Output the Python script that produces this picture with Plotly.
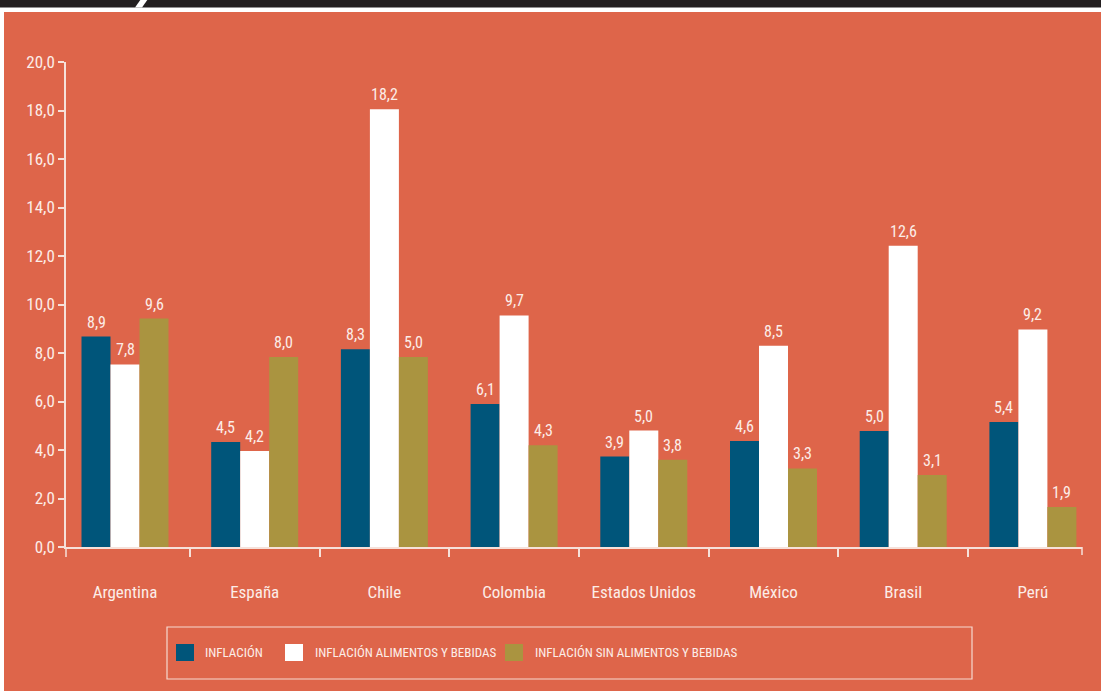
import plotly.graph_objects as go

categories = ["Argentina", "España", "Chile", "Colombia", "Estados Unidos", "México", "Brasil", "Perú"]
series_names = ["INFLACIÓN", "INFLACIÓN ALIMENTOS Y BEBIDAS", "INFLACIÓN SIN ALIMENTOS Y BEBIDAS"]
inflacion = [8.68, 4.33, 8.15, 5.9, 3.73, 4.37, 4.78, 5.15]
inflacion_alimentos = [7.53, 3.96, 18.05, 9.55, 4.80, 8.3, 12.42, 8.97]
inflacion_sin_alimentos = [9.42, 7.83, 7.83, 4.2, 3.6, 3.24, 2.97, 1.65]
labels_inflacion = ["8,9", "4,5", "8,3", "6,1", "3,9", "4,6", "5,0", "5,4"]
labels_alimentos = ["7,8", "4,2", "18,2", "9,7", "5,0", "8,5", "12,6", "9,2"]
labels_sin_alimentos = ["9,6", "8,0", "5,0", "4,3", "3,8", "3,3", "3,1", "1,9"]
y_ticks = [0, 2, 4, 6, 8, 10, 12, 14, 16, 18, 20]

colors = ["#00557A", "#FFFFFF", "#AA9440"]
BG = "#DE654A"
TXT = "#FCEDE8"
LINE = "#F6E1DA"
FONT = "Roboto Condensed, Liberation Sans Narrow, DejaVu Sans Condensed, sans-serif"

W, H = 1101, 691
L, R, T, B = 66, 1082, 62, 547
BAR_PX = 29

def px(x):
    return (x - L) / (R - L)

def py(y):
    return (B - y) / (B - T)

fig = go.Figure()
annotations = []
all_vals = [inflacion, inflacion_alimentos, inflacion_sin_alimentos]
all_labs = [labels_inflacion, labels_alimentos, labels_sin_alimentos]
for i, (name, vals, labs, col) in enumerate(zip(series_names, all_vals, all_labs, colors)):
    fig.add_trace(go.Bar(x=categories, y=vals, name=name, marker=dict(color=col, line=dict(width=0)),
                         showlegend=False, hoverinfo="x+y"))
    for c, v, t in zip(categories, vals, labs):
        annotations.append(dict(x=c, y=v, xref="x", yref="y", text=t, showarrow=False,
                                xshift=(i - 1) * BAR_PX, yshift=3, yanchor="bottom", xanchor="center",
                                font=dict(color=TXT, size=16, family=FONT)))

shapes = []
# top dark bar and white strips
shapes.append(dict(type="rect", xref="paper", yref="paper", x0=px(-5), x1=px(W + 5), y0=py(12), y1=py(-5),
                   fillcolor="#FFFFFF", line=dict(width=0), layer="above"))
shapes.append(dict(type="rect", xref="paper", yref="paper", x0=px(-5), x1=px(4), y0=py(H + 5), y1=py(-5),
                   fillcolor="#FFFFFF", line=dict(width=0), layer="above"))
shapes.append(dict(type="rect", xref="paper", yref="paper", x0=px(-5), x1=px(W + 5), y0=py(7.5), y1=py(-5),
                   fillcolor="#231F20", line=dict(width=0), layer="above"))
shapes.append(dict(type="path", xref="paper", yref="paper",
                   path=f"M {px(135)} {py(7.5)} L {px(142)} {py(7.5)} L {px(148)} {py(-1)} L {px(141)} {py(-1)} Z",
                   fillcolor="#FFFFFF", line=dict(width=0), layer="above"))
# axis end ticks
shapes.append(dict(type="line", xref="paper", yref="paper", x0=0, x1=0, y0=0, y1=py(B + 10),
                   line=dict(color=LINE, width=1.5)))
shapes.append(dict(type="line", xref="paper", yref="paper", x0=1, x1=1, y0=0, y1=py(B + 8),
                   line=dict(color=LINE, width=1.5)))
# legend box
lx0, lx1, ly0, ly1 = 167, 972, 627, 679
shapes.append(dict(type="rect", xref="paper", yref="paper", x0=px(lx0), x1=px(lx1), y0=py(ly1), y1=py(ly0),
                   line=dict(color="#F6D9D0", width=1.2), fillcolor="rgba(0,0,0,0)"))
sq_x = [176, 285, 505]
tx_x = [203, 313, 533]
for i, name in enumerate(series_names):
    shapes.append(dict(type="rect", xref="paper", yref="paper", x0=px(sq_x[i]), x1=px(sq_x[i] + 18),
                       y0=py(661), y1=py(644), fillcolor=colors[i], line=dict(width=0)))
    annotations.append(dict(xref="paper", yref="paper", x=px(tx_x[i]), y=py(652.5), text=name,
                            showarrow=False, xanchor="left", yanchor="middle",
                            font=dict(color=TXT, size=13, family=FONT)))

unit = 129.7
c0 = 125
fig.update_layout(
    width=W, height=H,
    margin=dict(l=L, r=W - R, t=T, b=H - B, pad=0),
    paper_bgcolor=BG, plot_bgcolor=BG,
    barmode="group", bargap=1 - 3 * BAR_PX / unit, bargroupgap=0,
    separators=",.",
    font=dict(family=FONT, color=TXT, size=15),
    shapes=shapes, annotations=annotations,
    showlegend=False,
)
fig.update_xaxes(showline=True, linecolor=LINE, linewidth=1.5, showgrid=False,
                 ticks="outside", tickson="boundaries", ticklen=8, tickcolor=LINE, tickwidth=1.5,
                 tickfont=dict(size=17, color=TXT, family=FONT), ticklabelstandoff=29,
                 range=[(L - c0) / unit, (R - c0) / unit], fixedrange=True)
fig.update_yaxes(range=[0, 20], tickvals=y_ticks, tickformat=".1f", showgrid=False, zeroline=False,
                 showline=True, linecolor=LINE, linewidth=1.5,
                 ticks="outside", ticklen=6, tickcolor=LINE, tickwidth=1.5,
                 tickfont=dict(size=17, color=TXT, family=FONT), fixedrange=True)

fig.write_html("out.html", config={"displayModeBar": False},
               post_script="document.body.style.margin='0';document.body.style.overflow='hidden';")
